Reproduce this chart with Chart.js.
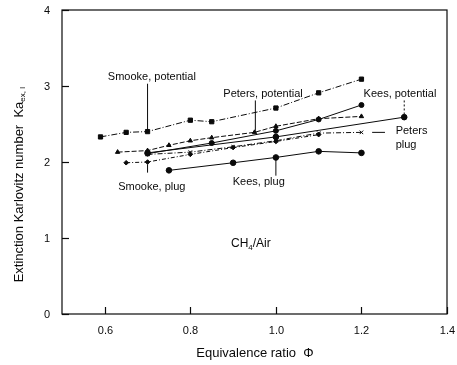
<!DOCTYPE html>
<html>
<head>
<meta charset="utf-8">
<script src="https://cdn.jsdelivr.net/npm/chart.js@4/dist/chart.umd.min.js"></script>
<style>
  html, body { margin: 0; padding: 0; background: #fff; }
  #wrap { width: 457px; height: 365px; }
</style>
</head>
<body>
<div id="wrap"><canvas id="chart" width="457" height="365"></canvas></div>
<script>
// --- data (phi, Ka) ---
const smookePotPhi = [0.59, 0.65, 0.70, 0.80, 0.85, 1.00, 1.10, 1.20];
const smookePotKa  = [2.33, 2.39, 2.40, 2.55, 2.53, 2.71, 2.91, 3.09];

const petersPotPhi = [0.63, 0.70, 0.75, 0.80, 0.85, 0.95, 1.00, 1.10, 1.20];
const petersPotKa  = [2.13, 2.15, 2.22, 2.28, 2.32, 2.39, 2.47, 2.57, 2.60];

const circlesPhi = [0.70, 0.85, 1.00, 1.10, 1.20];
const circlesKa  = [2.11, 2.25, 2.41, 2.56, 2.75];

const keesPotPhi = [0.70, 1.00, 1.30];
const keesPotKa  = [2.12, 2.33, 2.59];

const petersPlugPhi = [0.70, 0.80, 0.90, 1.00, 1.10, 1.20];
const petersPlugKa  = [2.10, 2.13, 2.20, 2.28, 2.38, 2.39];

const smookePlugPhi = [0.65, 0.70, 0.80, 0.90, 1.00, 1.10];
const smookePlugKa  = [1.99, 2.00, 2.10, 2.19, 2.27, 2.36];

const keesPlugPhi = [0.75, 0.90, 1.00, 1.10, 1.20];
const keesPlugKa  = [1.89, 1.99, 2.06, 2.14, 2.12];

const xTicks = [0.6, 0.8, 1.0, 1.2, 1.4];
const xTickLabels = ['0.6', '0.8', '1.0', '1.2', '1.4'];
const yTicks = [0, 1, 2, 3, 4];

const INK = '#0a0a0a';
const FONT = '"Liberation Sans", Arial, sans-serif';

function pts(xs, ys) {
  return xs.map((x, i) => ({ x: x, y: ys[i] }));
}

function series(label, xs, ys, style, radius, dash) {
  return {
    label: label,
    data: pts(xs, ys),
    borderColor: INK,
    backgroundColor: INK,
    borderWidth: 1,
    borderDash: dash || [],
    pointStyle: style,
    pointRadius: radius,
    pointBorderWidth: 1,
    showLine: true,
    tension: 0
  };
}

// leader lines + text in data coords
const notes = [
  { text: 'Smooke, potential', x: 0.71, y: 3.12, line: [0.70, 3.03, 0.70, 2.43] },
  { text: 'Peters, potential', x: 0.97, y: 2.89, line: [0.952, 2.81, 0.952, 2.41] },
  { text: 'Kees, potential', x: 1.29, y: 2.89, line: [1.30, 2.81, 1.30, 2.63], dash: [2, 2] },
  { text: 'Peters', x: 1.28, y: 2.41, align: 'left', line: [1.225, 2.39, 1.255, 2.39] },
  { text: 'plug', x: 1.28, y: 2.23, align: 'left' },
  { text: 'Smooke, plug', x: 0.71, y: 1.67, line: [0.70, 1.97, 0.70, 1.86] },
  { text: 'Kees, plug', x: 0.96, y: 1.74, line: [1.0, 2.03, 1.0, 1.82] }
];

const framePlugin = {
  id: 'frame',
  afterDraw(chart) {
    const ctx = chart.ctx;
    const a = chart.chartArea;
    const xs = chart.scales.x, ys = chart.scales.y;
    ctx.save();
    ctx.strokeStyle = INK;
    ctx.lineWidth = 1.2;
    ctx.strokeRect(a.left, a.top, a.right - a.left, a.bottom - a.top);

    // inward ticks + tick labels
    ctx.fillStyle = INK;
    ctx.font = '11px ' + FONT;
    ctx.textAlign = 'center';
    ctx.textBaseline = 'middle';
    xTicks.forEach((v, i) => {
      const px = Math.round(xs.getPixelForValue(v)) + 0.5;
      ctx.beginPath(); ctx.moveTo(px, a.bottom); ctx.lineTo(px, a.bottom - 7); ctx.stroke();
      ctx.fillText(xTickLabels[i], px, a.bottom + 17);
    });
    ctx.textAlign = 'right';
    yTicks.forEach(v => {
      const py = Math.round(ys.getPixelForValue(v)) + 0.5;
      ctx.beginPath(); ctx.moveTo(a.left, py); ctx.lineTo(a.left + 7, py); ctx.stroke();
      ctx.fillText(String(v), a.left - 12, py);
    });

    // annotations
    ctx.lineWidth = 1;
    ctx.font = '11px ' + FONT;
    notes.forEach(n => {
      if (n.line) {
        ctx.setLineDash(n.dash || []);
        ctx.beginPath();
        ctx.moveTo(xs.getPixelForValue(n.line[0]), ys.getPixelForValue(n.line[1]));
        ctx.lineTo(xs.getPixelForValue(n.line[2]), ys.getPixelForValue(n.line[3]));
        ctx.stroke();
        ctx.setLineDash([]);
      }
      ctx.textAlign = n.align || 'center';
      ctx.fillText(n.text, xs.getPixelForValue(n.x), ys.getPixelForValue(n.y));
    });

    // CH4/Air label with subscript
    ctx.font = '12px ' + FONT;
    ctx.textAlign = 'left';
    let cx = xs.getPixelForValue(0.895), cy = ys.getPixelForValue(0.93);
    ctx.fillText('CH', cx, cy);
    cx += ctx.measureText('CH').width;
    ctx.font = '8px ' + FONT;
    ctx.fillText('4', cx, cy + 4);
    cx += ctx.measureText('4').width;
    ctx.font = '12px ' + FONT;
    ctx.fillText('/Air', cx, cy);

    // axis titles
    ctx.font = '13px ' + FONT;
    ctx.textAlign = 'center';
    ctx.fillText('Equivalence ratio  \u03A6', 255, 353);
    ctx.save();
    ctx.translate(19, 184);
    ctx.rotate(-Math.PI / 2);
    ctx.textAlign = 'center';
    const main = 'Extinction Karlovitz number  Ka';
    const w = ctx.measureText(main).width;
    ctx.fillText(main, -8, 0);
    ctx.font = '8px ' + FONT;
    ctx.textAlign = 'left';
    ctx.fillText('ex, l', -8 + w / 2, 4);
    ctx.restore();
    ctx.restore();
  }
};

new Chart(document.getElementById('chart'), {
  type: 'scatter',
  data: {
    datasets: [
      series('Smooke, potential', smookePotPhi, smookePotKa, 'rect', 3, [6, 2, 1, 2]),
      series('Peters, potential', petersPotPhi, petersPotKa, 'triangle', 2.5, [5, 2]),
      series('Potential', circlesPhi, circlesKa, 'circle', 2.5),
      series('Kees, potential', keesPotPhi, keesPotKa, 'circle', 2.8),
      series('Peters, plug', petersPlugPhi, petersPlugKa, 'crossRot', 2.5, [5, 2, 1, 2]),
      series('Smooke, plug', smookePlugPhi, smookePlugKa, 'rectRot', 2.3, [4, 2, 1, 2]),
      series('Kees, plug', keesPlugPhi, keesPlugKa, 'circle', 2.8)
    ]
  },
  options: {
    responsive: false,
    animation: false,
    layout: { padding: { top: 10, right: 10, left: 0, bottom: 0 } },
    plugins: { legend: { display: false }, tooltip: { enabled: false } },
    scales: {
      x: {
        type: 'linear', min: 0.5, max: 1.4,
        afterFit: s => { s.height = 51; },
        grid: { display: false, drawTicks: false },
        border: { display: false },
        ticks: { display: false }
      },
      y: {
        type: 'linear', min: 0, max: 4,
        afterFit: s => { s.width = 62; },
        grid: { display: false, drawTicks: false },
        border: { display: false },
        ticks: { display: false }
      }
    }
  },
  plugins: [framePlugin]
});
</script>
</body>
</html>
